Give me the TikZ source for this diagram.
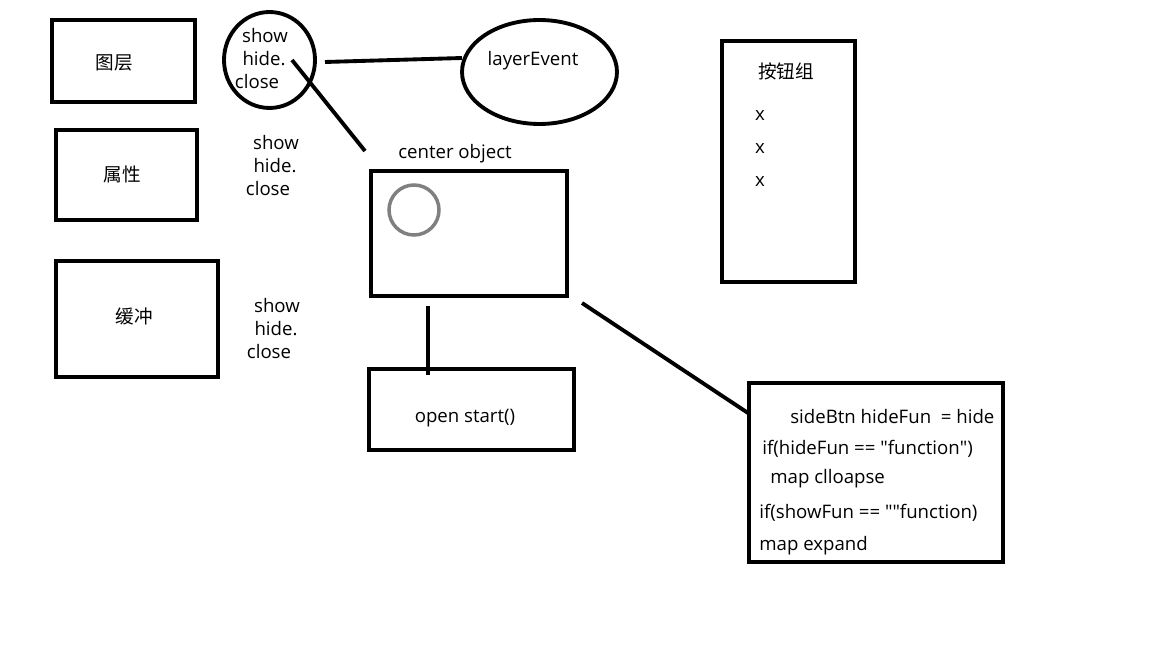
\documentclass[tikz,border=0pt]{standalone}
\usepackage{fontspec}
\setmainfont{Open Sans}
\newfontfamily\cjk{Noto Sans CJK SC}
\usetikzlibrary{shapes.geometric}
\tikzset{box/.style={draw, line width=2.2pt, rectangle, inner sep=0pt},
  oval/.style={draw, line width=2.2pt, ellipse, inner sep=0pt},
  txt/.style={inner sep=0pt, yshift=-1.2pt, font=\fontsize{10.6}{12}\selectfont},
  wire/.style={line width=2.2pt}}

\begin{document}
\begin{tikzpicture}[x=0.02cm, y=-0.02cm]
  \useasboundingbox (0,0) rectangle (1152,648);
  % left column
  \node [box, minimum width=2.86cm, minimum height=1.64cm] (layer) at (123.5,61) {};
  \node [txt] (layert) at (114,61) {\cjk 图层};
  \node [box, minimum width=2.82cm, minimum height=1.80cm] (attr) at (126.5,175) {};
  \node [txt] (attrt) at (122,172) {\cjk 属性};
  \node [box, minimum width=3.24cm, minimum height=2.32cm] (buffer) at (137,319) {};
  \node [txt] (buffert) at (134,314) {\cjk 缓冲};
  % show hide close
  \node [oval, minimum width=1.82cm, minimum height=1.92cm] (hover) at (269.5,60) {};
  \foreach \n/\x/\y in {1/0/33,2/11/140,3/12/303} {
    \node [txt] (show\n) at (265+\x,\y) {show};
    \node [txt] (hide\n) at (264+\x,\y+23) {hide.};
    \node [txt] (close\n) at (257+\x,\y+46) {close};
  }
  \node [oval, minimum width=3.10cm, minimum height=2.08cm] (event) at (539.5,72) {};
  \node [txt] (eventt) at (533,59) {layerEvent};
  \coordinate (e1) at (325,62);
  \coordinate (e2) at (462,58);
  \draw [wire] (e1) -- (e2);
  \coordinate (h1) at (292,60);
  \coordinate (h2) at (365,151);
  \draw [wire] (h1) -- (h2);
  % center object
  \node [txt] (centert) at (455,152) {center object};
  \node [box, minimum width=3.92cm, minimum height=2.50cm] (center) at (469,233.5) {};
  \node [draw=gray, line width=2pt, circle, minimum size=1.0cm, inner sep=0pt] (dot) at (414,210) {};
  \node [box, minimum width=4.10cm, minimum height=1.62cm] (open) at (471.5,409.5) {};
  \node [txt] (opent) at (465,416) {open start()};
  \coordinate (c1) at (428,306);
  \coordinate (c2) at (428,375);
  \draw [wire] (c1) -- (c2);
  % side button
  \node [box, minimum width=5.08cm, minimum height=3.58cm] (side) at (876,472.5) {};
  \node [txt, anchor=west] (s1) at (790,414) {sideBtn hideFun\ \ = hide};
  \node [txt, anchor=west] (s2) at (762,447) {if(hideFun == \textquotedbl function\textquotedbl)};
  \node [txt, anchor=west] (s3) at (770,477) {map clloapse};
  \node [txt, anchor=west] (s4) at (759,511) {if(showFun == \textquotedbl\textquotedbl function)};
  \node [txt, anchor=west] (s5) at (759,544) {map expand};
  \coordinate (d1) at (582,303);
  \coordinate (d2) at (748,413);
  \draw [wire] (d1) -- (d2);
  % button group
  \node [box, minimum width=2.66cm, minimum height=4.82cm] (btns) at (788.5,161.5) {};
  \node [txt] (btnst) at (786,69) {\cjk 按钮组};
  \foreach \y in {113,146,179} {
    \node [txt] (x\y) at (760,\y) {x};
  }
\end{tikzpicture}
\end{document}
